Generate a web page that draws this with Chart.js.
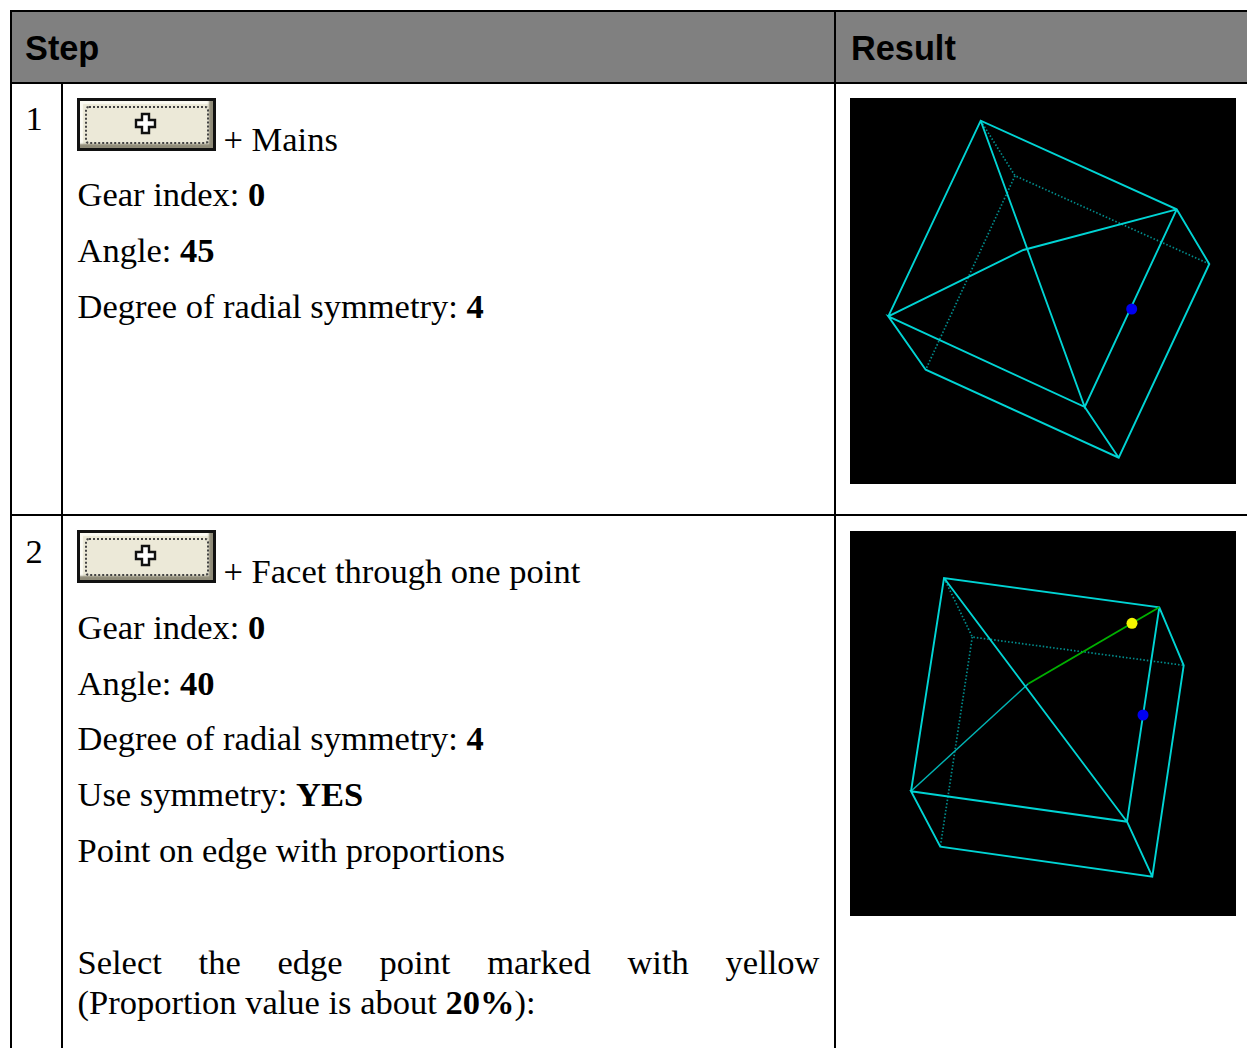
<!DOCTYPE html>
<html>
<head>
<meta charset="utf-8">
<script src="https://cdn.jsdelivr.net/npm/chart.js@4"></script>
<style>
  html, body { margin: 0; padding: 0; background: #fff; overflow: hidden; }
  #page { position: relative; width: 1247px; height: 1048px; overflow: hidden; color: #000;
          font-family: "Liberation Serif", serif; font-size: 34.5px; }
  .rule { position: absolute; background: #000; }
  #head { position: absolute; left: 11px; top: 11px; width: 1236px; height: 71px; background: #808080; }
  .th { position: absolute; top: 30px; font: bold 34.3px "Liberation Sans", sans-serif; line-height: 37px; }
  .t { position: absolute; line-height: 38px; white-space: nowrap; }
  .just { white-space: normal; width: 742px; text-align: justify; text-align-last: justify; }
  .btn { position: absolute; left: 77px; width: 139px; height: 53px; box-sizing: border-box;
         background: #ece9d8; border: 3px solid #111;
         box-shadow: inset -4px -4px 2px #8f8b78, inset 3px 3px 1px #fbfaf2; }
  .btn i { position: absolute; left: 5px; top: 5px; right: 4px; bottom: 4px; border: 2.5px dotted #444; border-radius: 4px; }
  .btn svg { position: absolute; left: 54px; top: 11px; }
  canvas { position: absolute; left: 850px; background: #000; }
</style>
</head>
<body>
<div id="page">
  <div id="head"></div>
  <div class="rule" style="left:10px;top:10px;width:1237px;height:2px"></div>
  <div class="rule" style="left:10px;top:10px;width:2px;height:1038px"></div>
  <div class="rule" style="left:10px;top:82px;width:1237px;height:2px"></div>
  <div class="rule" style="left:10px;top:514px;width:1237px;height:2px"></div>
  <div class="rule" style="left:61px;top:82px;width:2px;height:966px"></div>
  <div class="rule" style="left:834px;top:10px;width:2px;height:1038px"></div>

  <div class="th" style="left:25px">Step</div>
  <div class="th" style="left:851px">Result</div>

  <div class="t" style="left:25.5px;top:99px">1</div>
  <div class="btn" style="top:98px"><i></i><svg width="23" height="23" viewBox="0 0 23 23"><path d="M8 2h7v6h6v7h-6v6H8v-6H2V8h6z" fill="#fff" stroke="#111" stroke-width="2.4"/></svg></div>
  <div class="t" style="left:223.5px;top:120px">+ Mains</div>
  <div class="t" style="left:77.5px;top:175px">Gear index: <b>0</b></div>
  <div class="t" style="left:77.5px;top:231px">Angle: <b>45</b></div>
  <div class="t" style="left:77.5px;top:287px">Degree of radial symmetry: <b>4</b></div>

  <div class="t" style="left:25.5px;top:532px">2</div>
  <div class="btn" style="top:530px"><i></i><svg width="23" height="23" viewBox="0 0 23 23"><path d="M8 2h7v6h6v7h-6v6H8v-6H2V8h6z" fill="#fff" stroke="#111" stroke-width="2.4"/></svg></div>
  <div class="t" style="left:223.5px;top:552px">+ Facet through one point</div>
  <div class="t" style="left:77.5px;top:608px">Gear index: <b>0</b></div>
  <div class="t" style="left:77.5px;top:664px">Angle: <b>40</b></div>
  <div class="t" style="left:77.5px;top:719px">Degree of radial symmetry: <b>4</b></div>
  <div class="t" style="left:77.5px;top:775px">Use symmetry: <b>YES</b></div>
  <div class="t" style="left:77.5px;top:831px">Point on edge with proportions</div>
  <div class="t just" style="left:77.5px;top:943px">Select the edge point marked with yellow</div>
  <div class="t" style="left:77.5px;top:983px">(Proportion value is about <b>20%</b>):</div>

  <canvas id="result-one" width="386" height="386" style="top:98px"></canvas>
  <canvas id="result-two" width="386" height="385" style="top:531px"></canvas>
</div>
<script>
// picture 1, values (null = lift the pen)
const oneSolidX = [38.3, 130.7, 326.7, 359.3, 268.7, 75.7, 38.3, 234.7, 268.7, null, 130.7, 234.7, 326.7, null, 38.3, 173.3, 326.7];
const oneSolidY = [218.3, 22.7, 111.3, 166, 359.7, 271.7, 218.3, 309, 359.7, null, 22.7, 309, 111.3, null, 218.3, 152, 111.3];
const oneDottedX = [130.7, 165, 359.3, null, 165, 75.7];
const oneDottedY = [22.7, 77.7, 166, null, 77.7, 271.7];
const oneBlueX = [281.7];
const oneBlueY = [211];

// picture 2
const twoSolidX = [61, 94, 309.3, 333.7, 302.3, 90.3, 61, 277, 302.3, null, 94, 277, 309.3];
const twoSolidY = [260.3, 47, 76.3, 134.3, 345.7, 315.7, 260.3, 290.7, 345.7, null, 47, 290.7, 76.3];
const twoThinX = [61, 178.3];
const twoThinY = [260.3, 152.7];
const twoDottedX = [94, 122.3, 333.7, null, 122.3, 90.3];
const twoDottedY = [47, 106, 134.3, null, 106, 315.7];
const twoGreenX = [178.3, 309.3];
const twoGreenY = [152.7, 76.3];
const twoBlueX = [293];
const twoBlueY = [184];
const twoYellowX = [282];
const twoYellowY = [92.3];

function toPoints(xs, ys) {
    return xs.map((x, i) => ({ x: x, y: ys[i] }));
}

function lineSet(xs, ys, color, width, dash) {
    return {
        data: toPoints(xs, ys),
        showLine: true,
        spanGaps: false,
        borderColor: color,
        borderWidth: width,
        borderDash: dash || [],
        pointRadius: 0
    };
}

function dotSet(xs, ys, color) {
    return {
        data: toPoints(xs, ys),
        showLine: false,
        pointRadius: 5.5,
        pointBackgroundColor: color,
        pointBorderWidth: 0
    };
}

function drawResult(id, datasets, size) {
    return new Chart(document.getElementById(id).getContext('2d'), {
        type: 'scatter',
        data: { datasets: datasets },
        options: {
            responsive: false,
            animation: false,
            layout: { padding: 0, autoPadding: false },
            plugins: { legend: { display: false }, tooltip: { enabled: false } },
            scales: {
                x: { display: false, min: 0, max: 386 },
                y: { display: false, min: 0, max: size, reverse: true }
            }
        }
    });
}

drawResult('result-one', [
    dotSet(oneBlueX, oneBlueY, '#0000f0'),
    lineSet(oneSolidX, oneSolidY, '#00d4d4', 1.9),
    lineSet(oneDottedX, oneDottedY, '#008c8c', 1.7, [1.5, 2])
], 386);

drawResult('result-two', [
    dotSet(twoYellowX, twoYellowY, '#f4f400'),
    dotSet(twoBlueX, twoBlueY, '#0000f0'),
    lineSet(twoGreenX, twoGreenY, '#00b000', 1.9),
    lineSet(twoSolidX, twoSolidY, '#00d4d4', 1.9),
    lineSet(twoThinX, twoThinY, '#00b4b4', 1.5),
    lineSet(twoDottedX, twoDottedY, '#008c8c', 1.7, [1.5, 2])
], 385);
</script>
</body>
</html>
